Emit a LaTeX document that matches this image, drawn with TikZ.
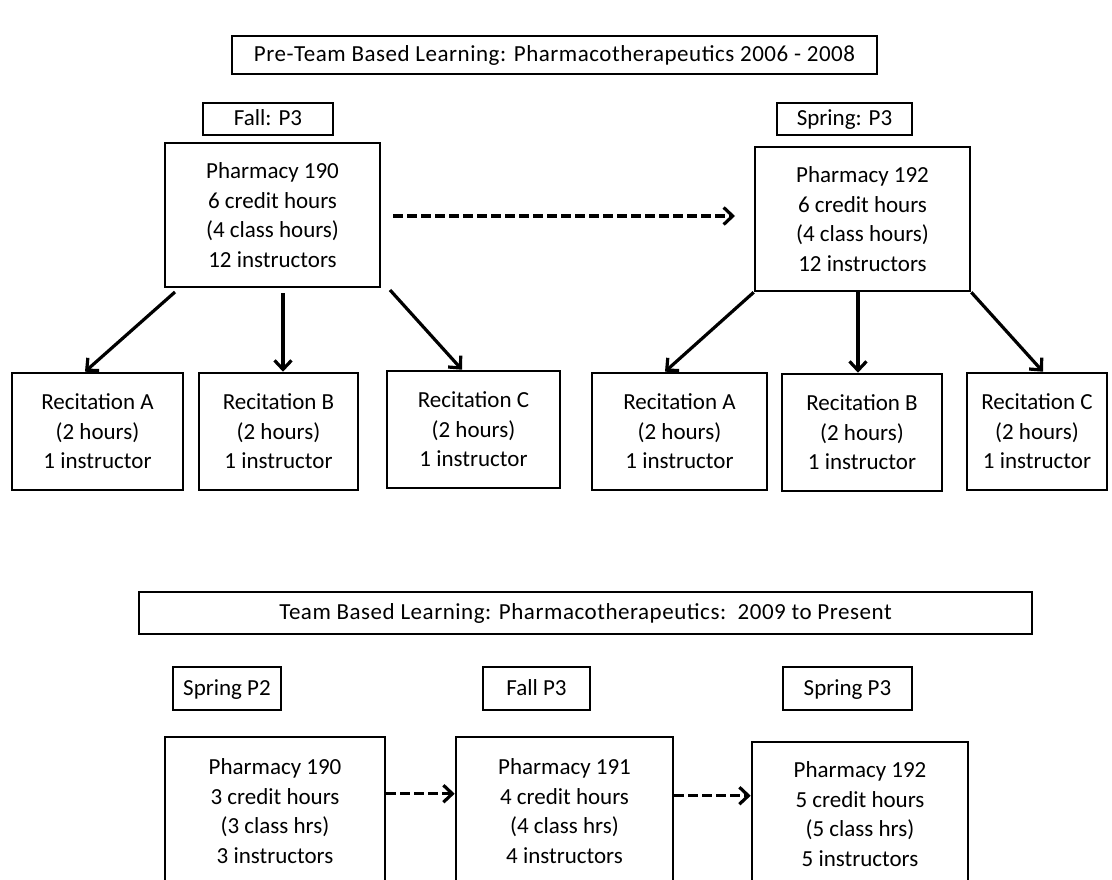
\documentclass[tikz,border=0pt]{standalone}
\usepackage{fontspec}
\setmainfont{Carlito}
\usetikzlibrary{arrows.meta,calc}
\begin{document}
\begin{tikzpicture}[x=1pt,y=-1pt,
 box/.style={draw,line width=2.6pt,inner sep=0pt,align=center,font=\fontsize{23}{29.5}\selectfont},
 lbl/.style={box,text height=17pt,text depth=4pt},
 ttl/.style={lbl,font=\fontsize{23}{29.5}\selectfont\addfontfeature{LetterSpace=2.3}},
 conn/.style={line width=3.2pt,-{Straight Barb[length=9pt,width=17pt,line width=3.2pt]}},
 dconn/.style={conn,dash pattern=on 10pt off 4pt}]
\useasboundingbox (0,0) rectangle (1112,879);
\clip (0,0) rectangle (1112,879);
\fill[white] (0,0) rectangle (1112,879);
% top section
\node[ttl,minimum width=645,minimum height=38] (t1) at (554.5,55) {Pre-Team Based Learning: Pharmacotherapeutics 2006 - 2008};
\node[lbl,minimum width=130,minimum height=32] (fall) at (268,119) {Fall: P3};
\node[lbl,minimum width=135,minimum height=32] (spring) at (844.5,119) {Spring: P3};
\node[box,minimum width=215,minimum height=144] (p190) at (272.5,215) {Pharmacy 190\\6 credit hours\\(4 class hours)\\12 instructors};
\node[box,minimum width=215,minimum height=144] (p192) at (862.5,219) {Pharmacy 192\\6 credit hours\\(4 class hours)\\12 instructors};
\node[box,minimum width=171,minimum height=117] (ra1) at (97.5,431.5) {Recitation A\\(2 hours)\\1 instructor};
\node[box,minimum width=159,minimum height=117] (rb1) at (278.5,431.5) {Recitation B\\(2 hours)\\1 instructor};
\node[box,minimum width=173,minimum height=117] (rc1) at (473.5,429.5) {Recitation C\\(2 hours)\\1 instructor};
\node[box,minimum width=175,minimum height=117] (ra2) at (679.5,431.5) {Recitation A\\(2 hours)\\1 instructor};
\node[box,minimum width=160,minimum height=117] (rb2) at (862,432.5) {Recitation B\\(2 hours)\\1 instructor};
\node[box,minimum width=140,minimum height=117] (rc2) at (1037,431.5) {Recitation C\\(2 hours)\\1 instructor};
\coordinate (s1) at (175,292);
\coordinate (s2) at (283,293);
\coordinate (s3) at (390,290);
\coordinate (d1) at (393,216);
\coordinate (d2) at (735,216);
\draw[dconn] (d1) -- (d2);
\draw[conn] (s1) -- ([xshift=-12.5]ra1.north);
\draw[conn] (s2) -- ([xshift=4.5]rb1.north);
\draw[conn] (s3) -- ([xshift=-11.5]rc1.north);
\draw[conn] (p192.south west) -- ([xshift=-14.5]ra2.north);
\draw[conn] ([xshift=-4.5]p192.south) -- ([xshift=-4]rb2.north);
\draw[conn] (p192.south east) -- ([xshift=6]rc2.north);
% bottom section
\node[ttl,minimum width=893,minimum height=42] (t2) at (585.5,613) {Team Based Learning: Pharmacotherapeutics:\ \ 2009 to Present};
\node[lbl,minimum width=108,minimum height=43] (sp2) at (227,688.5) {Spring P2};
\node[lbl,minimum width=107,minimum height=43] (fp3) at (536.5,688.5) {Fall P3};
\node[lbl,minimum width=129,minimum height=43] (sp3) at (847.5,688.5) {Spring P3};
\node[box,minimum width=220,minimum height=148] (b190) at (275,811) {Pharmacy 190\\3 credit hours\\(3 class hrs)\\3 instructors};
\node[box,minimum width=217,minimum height=148] (b191) at (564.5,811) {Pharmacy 191\\4 credit hours\\(4 class hrs)\\4 instructors};
\node[box,minimum width=216,minimum height=144] (b192) at (860,814) {Pharmacy 192\\5 credit hours\\(5 class hrs)\\5 instructors};
\draw[dconn] ($(b190.north east)+(0,58)$) -- ($(b191.north west)+(0,58)$);
\draw[dconn] ($(b191.north east)+(0,60)$) -- ($(b192.north west)+(0,55)$);
\end{tikzpicture}
\end{document}
